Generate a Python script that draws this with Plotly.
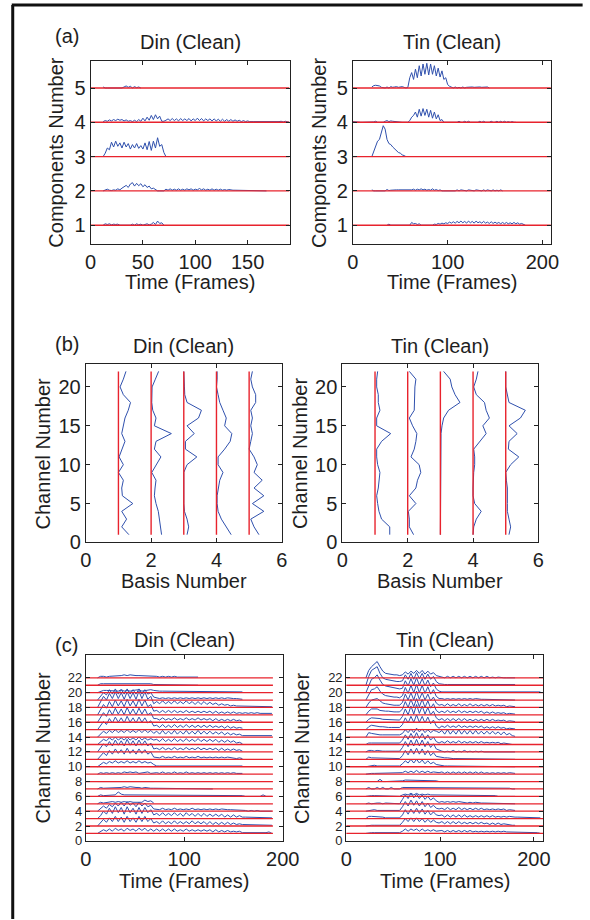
import plotly.graph_objects as go

W, H = 590, 920
BLUE = "#2f50ad"
RED = "#e8232d"
FONT = "Liberation Sans, Arial, Helvetica, sans-serif"
TXT = "#1e1e1e"

# ---------------- panel (a): activations per component ----------------
COMPONENTS = [1, 2, 3, 4, 5]
A_STEP = 2  # frames between samples
DIN_A_START = [12, 12, 12, 12, 12]
DIN_A_VALUES = [  # hundredths of a unit above each component line
    [0, 4, 2, 4, 1, 3, 2, 3, 0, 0, 0, 0, 0, 0, 3, 0, 4, 1, 3, 0, 2, 4, 1, 3, 8, 2, 12, 5, 7, 0],
    [0, 3, 5, 2, 1, 3, 2, 6, 3, 8, 12, 16, 10, 20, 24, 14, 22, 15, 21, 12, 18, 10, 14, 6, 8, 3, 0, 0, 0, 0,
     5, 2, 6, 2, 5, 2, 6, 2, 5, 2, 6, 3, 6, 2, 5, 3, 7, 3, 6, 2, 5, 2, 6, 2, 5, 2, 5, 2, 4, 2, 4, 2,
     2, 2, 2, 2, 2, 2, 2, 2, 2, 2, 2, 2, 2, 2, 2, 2, 0],
    [0, 10, 25, 20, 42, 28, 45, 30, 40, 25, 42, 28, 38, 22, 35, 25, 38, 24, 32, 22, 40, 20, 44, 18, 45, 25,
     55, 30, 35, 12, 0],
    [2, 5, 3, 7, 4, 8, 5, 9, 6, 8, 4, 7, 3, 5, 2, 6, 2, 8, 3, 12, 4, 15, 6, 20, 8, 22, 10, 18, 3, 3,
     6, 10, 5, 11, 5, 10, 4, 11, 5, 10, 5, 11, 4, 10, 5, 12, 5, 11, 4, 10, 5, 10, 4, 10, 4, 9, 3, 9, 3, 8,
     3, 8, 3, 7, 3, 6, 2, 5, 2, 4, 2, 3, 2, 2, 2, 2, 2, 2, 2, 2, 2, 2, 0, 0, 2, 3, 1, 3, 2, 0],
    [3, 0, 0, 0, 0, 0, 0, 0, 0, 0, 3, 6, 2, 5, 0, 4, 1, 3, 0],
]
TIN_A_START = [36, 20, 20, 0, 20]
TIN_A_VALUES = [
    [0, 3, 0, 0, 0, 0, 0, 0, 0, 0, 0, 0, 0, 8, 4, 5, 2, 4, 0, 0, 0, 0, 0, 0, 0,
     3, 2, 5, 3, 6, 4, 7, 5, 9, 6, 10, 6, 11, 7, 12, 7, 11, 6, 12, 7, 11, 6, 12, 7, 10, 6, 11, 6,
     9, 5, 10, 5, 9, 5, 8, 4, 8, 4, 8, 4, 7, 4, 8, 4, 7, 3, 5, 2, 0],
    [3, 0, 0, 0, 0, 0, 0, 0, 4, 1, 2, 3, 2, 3, 3, 3, 2, 3, 3, 3, 4, 3, 5, 2, 5, 3, 6, 3, 5, 2, 4, 2,
     6, 2, 4, 1, 3, 0, 0, 0, 0, 0, 0, 0, 0, 3, 0, 3, 2, 3, 0, 3, 2, 3, 0, 3, 2, 3, 0, 3, 0, 3, 2, 0,
     3, 0, 2, 0, 3, 0],
    [0, 15, 30, 45, 50, 70, 90, 80, 50, 38, 35, 28, 22, 18, 12, 10, 5, 3, 0],
    [2, 1, 2, 0, 0, 0, 0, 0, 0, 0, 2, 1, 3, 0, 0, 0, 0, 3, 5, 2, 4, 3, 2, 3, 2, 0, 0, 0, 0, 0,
     5, 15, 20, 30, 15, 38, 18, 40, 20, 38, 15, 35, 12, 30, 10, 22, 5, 8, 0,
     0, 0, 0, 0, 0, 0, 0, 3, 0, 0, 3, 0, 3, 0, 0, 0, 0, 0, 3, 0, 3, 0, 0, 0, 3, 0, 0, 3, 0, 3, 0, 3,
     0, 2, 0, 2, 0, 0],
    [3, 7, 8, 8, 6, 2, 0, 0, 3, 0, 4, 2, 3, 4, 2, 3, 4, 2, 0, 2, 30, 45, 25, 55, 30, 65, 35, 70, 40,
     72, 38, 70, 40, 65, 35, 58, 32, 50, 25, 30, 10, 5, 2, 0, 3, 0, 2, 0, 3, 0, 2, 3, 2, 3, 2, 3, 2,
     3, 2, 3, 2, 3, 0],
]

# ---------------- panel (b): basis vectors over channels ----------------
BASES = [1, 2, 3, 4, 5]
CHANNELS_B = list(range(1, 23))
DIN_B = [  # channel 1 .. 22, units of basis axis
    [0.32, 0.10, 0.25, 0.10, 0.44, 0.12, 0.10, 0.15, 0.00, 0.15, 0.02, 0.10, 0.20, 0.10, 0.15, 0.20,
     0.30, 0.37, 0.15, 0.05, 0.15, 0.23],
    [0.32, 0.28, 0.25, 0.22, 0.15, 0.10, 0.12, 0.15, 0.02, 0.15, 0.30, 0.10, 0.15, 0.62, 0.10, 0.15,
     0.05, 0.02, 0.02, 0.03, 0.13, 0.23],
    [0.10, 0.15, 0.10, 0.02, 0.00, 0.00, 0.00, 0.00, 0.00, 0.10, 0.40, 0.05, 0.05, 0.32, 0.10, 0.45,
     0.54, 0.10, 0.03, 0.02, 0.00, 0.00],
    [0.45, 0.30, 0.15, 0.05, 0.02, 0.02, 0.05, 0.10, 0.20, 0.05, 0.05, 0.25, 0.42, 0.47, 0.25, 0.30,
     0.20, 0.10, 0.05, 0.00, 0.02, 0.02],
    [0.30, 0.15, 0.05, 0.45, 0.10, 0.45, 0.15, 0.40, 0.15, 0.25, 0.15, 0.00, 0.05, 0.10, 0.05, 0.10,
     0.05, 0.20, 0.20, 0.10, 0.05, 0.10],
]
TIN_B = [
    [0.45, 0.45, 0.20, 0.12, 0.08, 0.05, 0.10, 0.12, 0.15, 0.08, 0.05, 0.05, 0.20, 0.48, 0.05, 0.05,
     0.15, 0.10, 0.10, 0.05, 0.05, 0.08],
    [0.18, 0.05, 0.05, 0.02, 0.25, 0.05, 0.25, 0.30, 0.40, 0.35, 0.10, 0.20, 0.25, 0.28, 0.15, 0.05,
     0.20, 0.20, 0.20, 0.22, 0.25, 0.05],
    [0.00, 0.00, 0.00, 0.00, 0.00, 0.00, 0.00, 0.00, 0.00, 0.00, 0.00, 0.00, 0.00, 0.02, 0.05, 0.10,
     0.25, 0.60, 0.45, 0.35, 0.30, 0.10],
    [0.00, 0.02, 0.10, 0.25, 0.05, 0.00, 0.00, 0.00, 0.02, 0.05, 0.05, 0.02, 0.20, 0.40, 0.30, 0.50,
     0.40, 0.35, 0.10, 0.02, 0.10, 0.15],
    [0.10, 0.15, 0.10, 0.05, 0.05, 0.05, 0.05, 0.02, 0.00, 0.15, 0.40, 0.08, 0.10, 0.35, 0.10, 0.45,
     0.60, 0.10, 0.05, 0.00, 0.00, 0.00],
]

# ---------------- panel (c): per-channel envelopes ----------------
CHANNELS_C = list(range(1, 23))
C_STEP = 3
DIN_C_START = 12
# tenths of a unit; segments: frames 12-69, 72-159, 162-189
DIN_C_BURST = [
    [0, 3, 5, 3, 6, 3, 7, 4, 6, 3, 7, 4, 6, 3, 7, 4, 7, 3, 6, 3],
    [0, 4, 9, 5, 11, 6, 13, 6, 12, 5, 13, 6, 11, 5, 13, 6, 13, 6, 10, 4],
    [0, 4, 10, 6, 14, 7, 16, 8, 15, 6, 16, 8, 14, 6, 15, 7, 15, 8, 12, 5],
    [0, 3, 7, 4, 9, 6, 11, 7, 12, 7, 13, 8, 11, 6, 12, 7, 11, 6, 8, 3],
    [0, 2, 1, 2, 2, 3, 2, 3, 2, 3, 2, 3, 2, 2, 3, 2, 5, 3, 4, 1],
    [0, 2, 1, 1, 2, 1, 2, 6, 3, 2, 2, 2, 1, 2, 2, 1, 2, 1, 2, 1],
    [0, 2, 1, 1, 1, 2, 1, 2, 2, 3, 2, 3, 2, 2, 2, 1, 2, 1, 1, 1],
    [0, 0, 0, 1, 0, 0, 0, 1, 0, 0, 0, 0, 0, 0, 0, 0, 0, 0, 0, 0],
    [0, 2, 1, 2, 1, 2, 1, 2, 1, 3, 2, 3, 2, 3, 1, 2, 2, 3, 1, 2],
    [0, 3, 6, 4, 7, 5, 8, 5, 7, 5, 8, 5, 7, 5, 8, 5, 7, 5, 6, 3],
    [0, 4, 9, 5, 12, 7, 14, 8, 13, 7, 15, 8, 13, 7, 14, 8, 13, 7, 10, 3],
    [0, 5, 11, 7, 14, 8, 16, 9, 15, 8, 17, 9, 15, 8, 16, 9, 15, 8, 12, 4],
    [0, 3, 7, 5, 9, 6, 10, 6, 9, 6, 10, 6, 9, 6, 10, 6, 9, 6, 8, 6],
    [0, 4, 8, 5, 9, 6, 10, 6, 9, 6, 10, 6, 9, 6, 10, 6, 10, 6, 9, 5],
    [0, 5, 11, 7, 15, 9, 17, 10, 16, 9, 18, 10, 16, 9, 17, 10, 16, 9, 12, 5],
    [0, 6, 13, 8, 17, 10, 19, 11, 18, 10, 20, 11, 18, 10, 19, 11, 18, 10, 13, 5],
    [0, 7, 14, 9, 18, 11, 20, 12, 19, 11, 21, 12, 19, 11, 21, 12, 20, 11, 14, 5],
    [0, 7, 15, 10, 19, 12, 21, 12, 20, 11, 21, 12, 20, 11, 22, 12, 21, 11, 15, 5],
    [0, 5, 10, 7, 14, 8, 15, 8, 14, 8, 15, 8, 14, 8, 15, 8, 14, 8, 10, 4],
    [0, 2, 3, 3, 3, 2, 3, 2, 4, 2, 3, 2, 3, 3, 4, 2, 3, 3, 4, 3],
    [0, 2, 2, 2, 2, 2, 3, 3, 3, 2, 3, 2, 3, 2, 3, 2, 2, 2, 2, 1],
    [0, 2, 2, 1, 2, 2, 3, 3, 3, 4, 3, 4, 3, 3, 3, 3, 3, 2, 3, 2],
]
DIN_C_POST = [
    [6, 3, 6, 3, 6, 3, 6, 3, 5, 3, 6, 3, 5, 3, 5, 3, 5, 3, 5, 2, 5, 2, 4, 2, 4, 2, 3, 2, 3, 1],
    [6, 3, 7, 3, 6, 3, 7, 3, 6, 3, 6, 3, 7, 3, 6, 3, 6, 2, 6, 2, 5, 2, 5, 2, 5, 2, 4, 2, 3, 2],
    [7, 4, 8, 4, 7, 4, 8, 4, 7, 3, 8, 4, 7, 3, 7, 3, 7, 3, 6, 3, 6, 3, 6, 2, 5, 2, 5, 2, 4, 2],
    [3, 2, 4, 2, 3, 2, 4, 2, 3, 2, 3, 2, 4, 2, 3, 2, 3, 2, 3, 2, 3, 2, 3, 2, 2, 2, 2, 1, 2, 1],
    [],
    [1, 1, 1, 1, 1, 1, 1, 1, 1, 1, 1, 1, 1, 1, 1, 1, 1, 1, 1, 1, 1, 1, 1, 1, 1, 1, 1, 1, 1, 1],
    [1, 0, 1, 0, 1, 0, 1, 1, 0, 1, 0, 1, 0, 0, 1, 0, 0, 0, 0, 0],
    [],
    [2, 1, 3, 1, 2, 1, 3, 1, 2, 1, 3, 1, 2, 1, 2, 1, 2, 1, 2, 1, 2, 1, 2, 1, 2, 1, 2, 1, 1, 1],
    [1, 1, 1, 1, 1, 1, 1, 1, 1, 1, 1, 1, 1, 1, 1, 1, 1, 1, 1, 1, 1, 1, 1, 1, 1, 1, 1, 1, 1, 1],
    [3, 2, 4, 2, 3, 2, 4, 2, 3, 2, 4, 2, 3, 2, 4, 2, 3, 2, 3, 2, 3, 2, 3, 2, 3, 2, 2, 1, 2, 1],
    [5, 3, 6, 3, 5, 3, 6, 3, 5, 3, 6, 3, 5, 3, 6, 3, 5, 3, 5, 3, 5, 2, 5, 2, 4, 2, 4, 2, 3, 1],
    [7, 4, 8, 4, 7, 4, 8, 4, 7, 4, 8, 4, 7, 4, 8, 4, 7, 4, 7, 4, 7, 3, 6, 3, 6, 3, 5, 2, 3, 1],
    [8, 4, 9, 4, 8, 4, 9, 4, 8, 4, 9, 4, 8, 4, 9, 4, 8, 4, 8, 4, 7, 4, 7, 3, 6, 3, 5, 3, 4, 2],
    [6, 3, 7, 3, 6, 3, 7, 3, 6, 3, 7, 3, 6, 3, 6, 3, 6, 3, 6, 3, 5, 3, 5, 2, 5, 2, 4, 2, 3, 2],
    [5, 3, 6, 3, 5, 3, 6, 3, 5, 3, 6, 3, 5, 3, 6, 3, 5, 3, 5, 2, 5, 2, 4, 2, 4, 2, 4, 2, 3, 1],
    [6, 3, 6, 3, 6, 3, 6, 3, 5, 3, 6, 3, 5, 3, 5, 3, 5, 3, 5, 2, 5, 2, 4, 2, 4, 2, 4, 2, 3, 2],
    [8, 5, 9, 5, 8, 5, 9, 5, 8, 5, 9, 5, 8, 4, 8, 4, 8, 4, 7, 4, 6, 3, 5, 3, 4, 2, 3, 2, 2, 1],
    [3, 2, 3, 2, 3, 2, 3, 2, 3, 2, 3, 2, 3, 2, 3, 2, 3, 2, 3, 2, 3, 2, 3, 2, 3, 2, 2, 2, 2, 1],
    [2, 2, 2, 2, 2, 2, 2, 2, 2, 2, 2, 2, 2, 2, 2, 2, 2, 2, 2, 2, 2, 1, 2, 1, 2, 1, 2, 1, 1, 1],
    [1, 1, 1, 1, 1, 0, 1, 0, 1, 0, 1, 1, 0, 0, 0],
    [2, 1, 2, 1, 2, 1, 2, 1, 1, 1, 1, 0, 1, 0, 1],
]
DIN_C_TAIL = [
    [1, 1, 1, 1, 1, 1, 0, 1, 2, 0], [2, 2, 2, 2, 2, 2, 1, 1, 1, 1], [2, 2, 2, 2, 2, 2, 2, 2, 1, 1],
    [1, 0, 1, 0, 1, 0, 0, 0, 0, 0], [], [0, 0, 0, 0, 0, 0, 2, 0, 0, 0], [], [], [], [], [], [], [],
    [2, 2, 2, 2, 2, 2, 2, 2, 2, 2], [], [], [3, 2, 3, 2, 3, 2, 2, 2, 2, 2],
    [1, 1, 1, 1, 1, 1, 1, 1, 1, 1], [], [], [], [],
]

TIN_C_START = 21
# tenths of a unit; segments: frames 21-57, 60-99, 102-180, 183-207
TIN_C_ONSET = [
    [0, 1, 1, 1, 1, 1, 1, 1, 1, 1, 1, 1, 1],
    [0, 1, 1, 1, 1, 1, 1, 1, 1, 1, 1, 1, 1],
    [0, 3, 3, 3, 2, 2, 2, 1, 1, 1, 1, 1, 1],
    [0, 1, 1, 2, 1, 1, 2, 1, 1, 2, 1, 1, 1],
    [0, 1, 0, 1, 1, 1, 0, 1, 1, 0, 0, 0, 0],
    [0, 1, 1, 1, 1, 1, 1, 1, 1, 0, 0, 0, 0],
    [0, 2, 0, 0, 2, 0, 2, 0, 0, 2, 0, 0, 0],
    [0, 0, 0, 0, 0, 3, 0, 0, 0, 0, 0, 0, 0],
    [0, 1, 1, 1, 1, 1, 1, 1, 1, 1, 1, 1, 1],
    [0, 1, 1, 2, 1, 1, 1, 2, 1, 1, 1, 1, 1],
    [0, 3, 2, 2, 1, 1, 1, 1, 1, 1, 1, 1, 1],
    [0, 2, 2, 1, 2, 1, 1, 1, 1, 1, 1, 1, 1],
    [0, 2, 2, 2, 2, 2, 2, 2, 2, 2, 2, 2, 2],
    [0, 6, 5, 4, 4, 3, 3, 3, 3, 3, 3, 3, 3],
    [0, 4, 6, 5, 5, 4, 4, 3, 3, 3, 3, 3, 3],
    [0, 4, 6, 6, 6, 5, 4, 4, 4, 3, 3, 3, 3],
    [0, 5, 8, 8, 8, 6, 5, 5, 5, 4, 4, 4, 4],
    [0, 6, 10, 11, 12, 9, 6, 5, 4, 4, 3, 3, 3],
    [0, 8, 14, 15, 18, 12, 8, 6, 5, 5, 4, 4, 3],
    [0, 10, 18, 20, 24, 17, 11, 9, 8, 7, 6, 6, 5],
    [0, 12, 20, 22, 25, 16, 10, 8, 7, 6, 6, 5, 5],
    [0, 10, 15, 18, 22, 15, 9, 6, 5, 5, 4, 4, 3],
]
TIN_C_BURST = [
    [3, 6, 3, 6, 4, 6, 3, 6, 3, 5, 3, 5, 3, 3],
    [5, 10, 6, 11, 6, 11, 6, 10, 5, 9, 5, 8, 5, 4],
    [5, 12, 6, 13, 7, 14, 7, 13, 6, 11, 5, 9, 5, 4],
    [6, 13, 7, 15, 8, 14, 7, 13, 6, 11, 5, 8, 4, 3],
    [6, 12, 7, 14, 8, 13, 7, 12, 6, 10, 5, 8, 4, 2],
    [2, 3, 2, 4, 2, 4, 2, 3, 2, 3, 2, 2, 1, 1],
    [2, 2, 1, 2, 1, 2, 1, 2, 1, 2, 1, 2, 1, 1],
    [1, 2, 2, 2, 2, 2, 2, 2, 2, 2, 2, 2, 1, 0],
    [2, 4, 2, 4, 2, 5, 2, 4, 2, 4, 2, 3, 2, 2],
    [4, 8, 5, 10, 5, 10, 5, 9, 4, 8, 4, 6, 3, 2],
    [5, 12, 6, 14, 7, 15, 7, 14, 6, 12, 5, 9, 4, 3],
    [6, 14, 7, 16, 8, 17, 8, 16, 7, 14, 6, 11, 4, 2],
    [6, 13, 7, 15, 8, 16, 8, 15, 7, 13, 6, 10, 4, 2],
    [5, 10, 6, 11, 6, 12, 7, 11, 6, 10, 6, 9, 8, 6],
    [7, 16, 9, 18, 10, 20, 10, 18, 9, 17, 8, 13, 5, 2],
    [8, 18, 10, 22, 11, 24, 12, 22, 11, 20, 10, 15, 6, 3],
    [8, 18, 10, 21, 11, 22, 11, 21, 10, 19, 9, 15, 6, 3],
    [7, 18, 10, 20, 10, 22, 11, 20, 10, 18, 9, 14, 6, 3],
    [6, 17, 9, 20, 10, 21, 10, 20, 9, 18, 8, 14, 5, 2],
    [6, 16, 9, 19, 10, 20, 10, 19, 9, 17, 8, 13, 5, 2],
    [6, 14, 8, 16, 8, 17, 9, 16, 8, 15, 8, 12, 5, 2],
    [4, 8, 5, 9, 6, 10, 6, 10, 5, 9, 5, 7, 3, 2],
]
TIN_C_POST = [
    [4, 2, 4, 2, 4, 2, 4, 2, 4, 2, 4, 2, 3, 2, 3, 2, 3, 2, 3, 2, 3, 2, 3, 2, 2, 1, 1],
    [6, 3, 6, 3, 6, 3, 6, 3, 5, 3, 5, 3, 5, 3, 5, 3, 4, 2, 4, 2, 4, 2, 3, 2, 2, 1, 1],
    [5, 2, 5, 2, 5, 2, 5, 2, 5, 2, 4, 2, 4, 2, 4, 2, 4, 2, 4, 2, 3, 2, 3, 2, 3, 2, 2],
    [4, 2, 5, 2, 4, 2, 5, 2, 4, 2, 4, 2, 4, 2, 4, 2, 3, 2, 3, 2, 3, 2, 3, 1, 2, 1, 1],
    [3, 2, 3, 2, 3, 2, 3, 2, 2, 1, 2, 1, 2, 1, 1, 1, 1, 0, 1, 0, 1, 0, 0, 0, 0, 0, 0],
    [1, 1, 1, 1, 1, 1, 1, 1, 1, 1, 1, 1, 1, 1, 1, 1, 1, 1, 1, 1, 0, 0, 0, 0, 0, 0, 0],
    [1, 1, 1, 1, 1, 1, 1, 1, 1, 1, 1, 1, 1, 1, 1, 1, 1, 1, 1, 1, 1, 1, 1, 1, 1, 0, 0],
    [0, 1, 0, 1, 0, 0, 1, 0, 0, 1, 0, 0, 0, 1, 0, 0, 0, 0, 0, 0, 0, 0, 0, 0, 0, 0, 0],
    [3, 1, 3, 1, 3, 1, 3, 1, 3, 1, 3, 1, 3, 1, 3, 1, 2, 1, 2, 1, 2, 1, 2, 1, 2, 1, 1],
    [2, 1, 1, 1, 1, 1, 1, 1, 1, 1, 1, 1, 1, 1, 1, 1, 1, 1, 1, 1, 1, 1, 1, 1, 1, 1, 0],
    [2, 2, 2, 1, 1, 1, 1, 1, 0, 1, 0, 1, 0, 0, 1, 0, 0, 1, 0, 0, 0, 0, 0, 0, 0, 0, 0],
    [1, 0, 1, 0, 2, 0, 1, 0, 2, 0, 1, 0, 1, 0, 1, 0, 0, 0, 0, 0, 0, 0, 0, 0, 0, 0, 0],
    [4, 2, 5, 2, 4, 2, 5, 2, 4, 2, 4, 2, 4, 2, 4, 2, 3, 2, 3, 2, 3, 1, 2, 1, 1, 0, 0],
    [9, 4, 10, 4, 9, 4, 10, 4, 9, 4, 9, 4, 9, 4, 8, 4, 8, 4, 8, 4, 7, 3, 7, 3, 5, 2, 1],
    [5, 3, 6, 3, 5, 3, 6, 3, 5, 3, 5, 3, 5, 3, 5, 2, 4, 2, 4, 2, 4, 2, 3, 1, 2, 1, 1],
    [5, 2, 5, 2, 5, 2, 5, 2, 5, 2, 4, 2, 4, 2, 4, 2, 4, 2, 4, 2, 3, 2, 3, 1, 2, 1, 1],
    [5, 3, 6, 3, 5, 3, 6, 3, 5, 3, 5, 3, 5, 3, 5, 2, 4, 2, 4, 2, 3, 2, 3, 1, 2, 1, 1],
    [4, 2, 5, 2, 4, 2, 5, 2, 4, 2, 5, 2, 4, 2, 4, 2, 4, 2, 4, 2, 3, 2, 3, 1, 2, 1, 1],
    [2, 1, 2, 1, 2, 1, 2, 1, 2, 1, 2, 1, 2, 1, 1, 1, 1, 1, 1, 1, 1, 0, 0, 0, 0, 0, 0],
    [1, 1, 1, 1, 1, 1, 1, 1, 1, 1, 1, 1, 1, 1, 1, 1, 1, 1, 1, 1, 1, 1, 1, 1, 1, 1, 1],
    [1, 1, 1, 1, 1, 1, 1, 1, 1, 1, 1, 1, 1, 1, 1, 1, 1, 1, 1, 1, 1, 1, 1, 1, 1, 1, 1],
    [1, 0, 2, 0, 2, 0, 2, 0, 2, 0, 2, 0, 2, 0, 2, 0, 2, 0, 1, 0, 1, 0, 0, 0, 0, 0, 0],
]
TIN_C_TAIL = [
    [1, 1, 1, 1, 1, 1, 1, 1, 0], [], [2, 2, 2, 2, 2, 2, 2, 1, 1], [], [], [], [], [], [], [], [],
    [], [], [], [], [], [], [], [], [1, 1, 1, 1, 1, 1, 1, 1, 1], [], [],
]

# ---------------- text ----------------
PANEL_LABELS = ["(a)", "(b)", "(c)"]
TITLES = ["Din (Clean)", "Tin (Clean)"]

# ---------------- layout helpers ----------------
def fx(p):
    return p / W

def fy(p):
    return 1 - p / H

# pixel boxes (left, right, top, bottom) for the six axes
BOXES = [
    (88, 295, 62, 247), (361, 567, 62, 247),
    (83, 287, 368, 549), (350, 554, 368, 549),
    (83, 288, 663, 851), (354, 559, 663, 851),
]

fig = go.Figure()


def add_line(ax, xs, ys, color, width):
    fig.add_trace(go.Scatter(x=xs, y=ys, mode="lines", xaxis="x" + ax, yaxis="y" + ax,
                             line=dict(color=color, width=width), hoverinfo="skip",
                             showlegend=False))


# panel (a)
for ax, starts, vals, xmax in [("", DIN_A_START, DIN_A_VALUES, 190),
                               ("2", TIN_A_START, TIN_A_VALUES, 209)]:
    for comp, s, v in zip(COMPONENTS, starts, vals):
        add_line(ax, [s + A_STEP * i for i in range(len(v))], [comp + a / 100 for a in v], BLUE, 1)
    rx, ry = [], []
    for comp in COMPONENTS:
        rx += [0, xmax, None]
        ry += [comp, comp, None]
    add_line(ax, rx, ry, RED, 1.4)

# panel (b)
for ax, vals in [("3", DIN_B), ("4", TIN_B)]:
    for b, v in zip(BASES, vals):
        add_line(ax, [b + a for a in v], CHANNELS_B, BLUE, 1)
    rx, ry = [], []
    for b in BASES:
        rx += [b, b, None]
        ry += [CHANNELS_B[0], CHANNELS_B[-1], None]
    add_line(ax, rx, ry, RED, 1.4)

# panel (c)
def chan_series(*segs):
    out = []
    for s in segs:
        out += s
    return out

for ax, start, seglists, xmax in [
    ("5", DIN_C_START, (DIN_C_BURST, DIN_C_POST, DIN_C_TAIL), 190),
    ("6", TIN_C_START, (TIN_C_ONSET, TIN_C_BURST, TIN_C_POST, TIN_C_TAIL), 210),
]:
    for k, ch in enumerate(CHANNELS_C):
        v = chan_series(*[sl[k] for sl in seglists])
        add_line(ax, [start + C_STEP * i for i in range(len(v))], [ch + a / 10 for a in v], BLUE, 1)
    rx, ry = [], []
    for ch in CHANNELS_C:
        rx += [0, xmax, None]
        ry += [ch, ch, None]
    add_line(ax, rx, ry, RED, 1.3)

# axes
def axstyle(domain, rng, tickvals, anchor, fsize=20):
    return dict(domain=domain, range=rng, tickvals=tickvals, ticktext=[str(t) for t in tickvals],
                showline=True, linecolor="#222", linewidth=1, mirror="ticks", ticks="inside",
                ticklen=4, tickcolor="#222", showgrid=False, zeroline=False,
                tickfont=dict(family=FONT, size=fsize, color=TXT),
                anchor=anchor, fixedrange=True)


XR = [([0, 190], [0, 50, 100, 150]), ([0, 209], [0, 100, 200]),
      ([0, 6], [0, 2, 4, 6]), ([0, 6], [0, 2, 4, 6]),
      ([0, 200], [0, 100, 200]), ([0, 210], [0, 100, 200])]
YR = [([0.45, 5.78], [1, 2, 3, 4, 5], 20), ([0.45, 5.78], [1, 2, 3, 4, 5], 20),
      ([0, 23], [0, 5, 10, 15, 20], 20), ([0, 23], [0, 5, 10, 15, 20], 20),
      ([0, 25.07], list(range(0, 23, 2)), 13), ([0, 25.07], list(range(0, 23, 2)), 13)]

layout = dict(width=W, height=H, margin=dict(l=0, r=0, t=0, b=0), paper_bgcolor="white",
              plot_bgcolor="white", showlegend=False)
for i, (box, (xr, xt), (yr, yt, yfs)) in enumerate(zip(BOXES, XR, YR)):
    n = "" if i == 0 else str(i + 1)
    l, r, t, b = box
    layout["xaxis" + n] = axstyle([fx(l), fx(r)], xr, xt, "y" + n)
    layout["yaxis" + n] = axstyle([fy(b), fy(t)], yr, yt, "x" + n, yfs)
fig.update_layout(**layout)

ann = []


def text(x, y, s, angle=0, size=20):
    ann.append(dict(x=fx(x), y=fy(y), xref="paper", yref="paper", text=s, showarrow=False,
                    textangle=angle, font=dict(family=FONT, size=size, color=TXT),
                    xanchor="center", yanchor="middle"))


# panel labels and titles
for lab, ly, ty, bl, br in zip(PANEL_LABELS, [36, 348, 653], [43, 350, 648],
                               [BOXES[0], BOXES[2], BOXES[4]], [BOXES[1], BOXES[3], BOXES[5]]):
    text(63, ly, lab)
    text((bl[0] + bl[1]) / 2, ty, TITLES[0])
    text((br[0] + br[1]) / 2, ty, TITLES[1])

# axis titles
text((88 + 295) / 2, 285, "Time (Frames)")
text((361 + 567) / 2, 285, "Time (Frames)")
text(52, (62 + 247) / 2, "Components Number", angle=-90)
text(325, (62 + 247) / 2, "Components Number", angle=-90)
text((83 + 287) / 2, 588, "Basis Number")
text((350 + 554) / 2, 588, "Basis Number")
text(39, (368 + 549) / 2, "Channel Number", angle=-90)
text(306, (368 + 549) / 2, "Channel Number", angle=-90)
text((83 + 288) / 2, 892, "Time (Frames)")
text((354 + 559) / 2, 892, "Time (Frames)")
text(38, (663 + 851) / 2, "Channel Number", angle=-90)
text(308, (663 + 851) / 2, "Channel Number", angle=-90)

fig.update_layout(annotations=ann)

# outer frame (left and top edges visible)
fig.add_shape(type="line", xref="paper", yref="paper", x0=fx(7), x1=fx(7), y0=fy(5), y1=fy(930),
              line=dict(color="#111", width=3))
fig.add_shape(type="line", xref="paper", yref="paper", x0=fx(6), x1=fx(600), y0=fy(5), y1=fy(5),
              line=dict(color="#111", width=3))

fig.write_html("out.html")
